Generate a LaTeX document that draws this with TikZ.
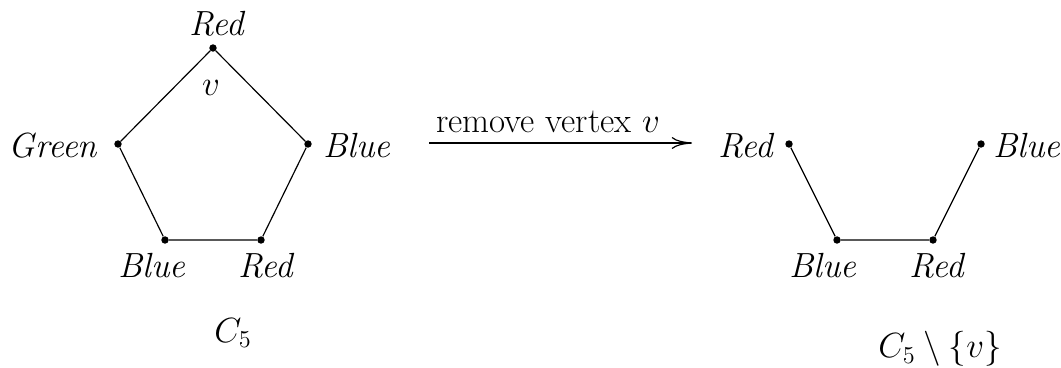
\documentclass[tikz,border=0pt]{standalone}
\usetikzlibrary{arrows.meta}
\begin{document}
\begin{tikzpicture}[x=0.0208333cm,y=-0.0208333cm,
  vtx/.style={circle,fill=black,inner sep=0pt,minimum size=4.4pt},
  edge/.style={line width=0.7pt},
  lbl/.style={font=\fontsize{20.7}{25}\selectfont\itshape,inner sep=0pt},
  ttl/.style={font=\fontsize{20.7}{25}\selectfont,inner sep=0pt}]
\useasboundingbox (0,0) rectangle (1061,367);
% left graph C5
\node[vtx] (t) at (213,48) {};
\node[vtx] (g) at (118,144) {};
\node[vtx] (b) at (308,144) {};
\node[vtx] (bl) at (165,240) {};
\node[vtx] (br) at (261,240) {};
\draw[edge] (t) -- (b) -- (br) -- (bl) -- (g) -- (t);
\node[lbl] (lt) at (217,24) {Red};
\node[ttl] (lv) at (211,88) {$v$};
\node[lbl] (lg) at (53,146) {Green};
\node[lbl] (lb) at (357,146) {Blue};
\node[lbl] (lbl1) at (152,266) {Blue};
\node[lbl] (lbr) at (266,266) {Red};
\node[ttl] (c5) at (233,333) {$C_5$};
% arrow
\coordinate (a1) at (429,143);
\coordinate (a2) at (692,143);
\draw[edge,-{To[length=12pt,width=7pt]}] (a1) -- (a2);
\node[ttl,anchor=base] (rm) at (548,132) {remove vertex $v$};
% right graph
\node[vtx] (r1) at (789,144) {};
\node[vtx] (r2) at (981,144) {};
\node[vtx] (r3) at (837,240) {};
\node[vtx] (r4) at (933,240) {};
\draw[edge] (r1) -- (r3) -- (r4) -- (r2);
\node[lbl] (lr1) at (746,146) {Red};
\node[lbl] (lr2) at (1027,146) {Blue};
\node[lbl] (lr3) at (823,266) {Blue};
\node[lbl] (lr4) at (937,266) {Red};
\node[ttl] (c5v) at (940,349) {$C_5\setminus\{v\}$};
\end{tikzpicture}
\end{document}
